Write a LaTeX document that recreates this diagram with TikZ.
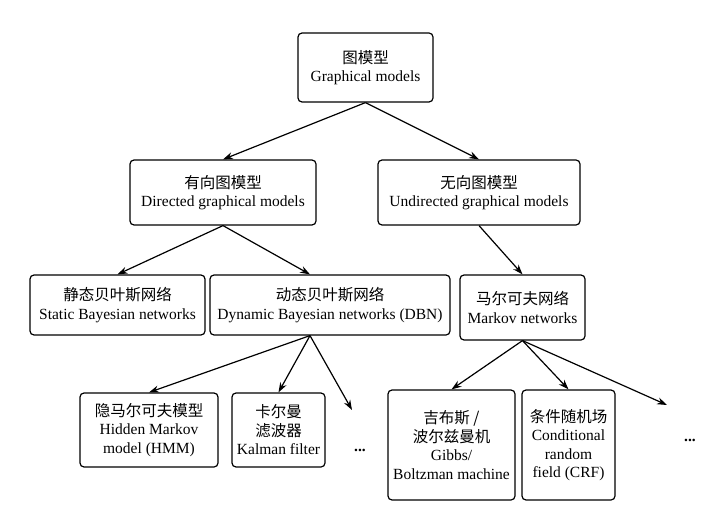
\documentclass[tikz,border=0pt]{standalone}
\usepackage{fontspec}
\setmainfont{Liberation Serif}
\newfontfamily\cjk{Noto Sans CJK SC}
\usetikzlibrary{arrows.meta}
\begin{document}
\begin{tikzpicture}[x=1pt,y=-1pt,
  box/.style={draw,line width=1.2pt,rounded corners=4pt,align=center,font=\fontsize{15.5}{18.5}\selectfont,inner sep=0pt},
  arr/.style={line width=1.2pt,-{Stealth[length=10pt,width=7pt]}}]
\useasboundingbox (0,0) rectangle (720,505);
\node[box,minimum width=135,minimum height=69] (root) at (365.5,67.5) {{\cjk 图模型}\\Graphical models};
\node[box,minimum width=186,minimum height=65] (dir) at (223,192.5) {{\cjk 有向图模型}\\Directed graphical models};
\node[box,minimum width=202,minimum height=65] (und) at (479,192.5) {{\cjk 无向图模型}\\Undirected graphical models};
\node[box,minimum width=175,minimum height=60] (sta) at (117.5,305) {{\cjk 静态贝叶斯网络}\\Static Bayesian networks};
\node[box,minimum width=240,minimum height=60] (dyn) at (330,305) {{\cjk 动态贝叶斯网络}\\Dynamic Bayesian networks (DBN)};
\node[box,minimum width=125,minimum height=65] (mar) at (522.5,307.5) {{\cjk 马尔可夫网络}\\Markov networks};
\node[box,minimum width=138,minimum height=74] (hmm) at (149,430) {{\cjk 隐马尔可夫模型}\\Hidden Markov\\model (HMM)};
\node[box,minimum width=93,minimum height=74] (kal) at (278.5,430) {{\cjk 卡尔曼}\\{\cjk 滤波器}\\Kalman filter};
\node[box,minimum width=127,minimum height=110] (gib) at (451.5,445) {{\cjk 吉布斯 /}\\{\cjk 波尔兹曼机}\\Gibbs/\\Boltzman machine};
\node[box,minimum width=93,minimum height=110] (crf) at (568.5,445) {{\cjk 条件随机场}\\Conditional\\random\\field (CRF)};
\node[font=\fontsize{15.5}{18}\selectfont\bfseries] (d1) at (360,450) {...};
\node[font=\fontsize{15.5}{18}\selectfont\bfseries] (d2) at (690,440) {...};
\coordinate (e1) at (352,410);
\coordinate (e2) at (667,405);
\draw[arr] (root.south) -- (dir.north);
\draw[arr] (root.south) -- (und.north);
\draw[arr] (dir.south) -- (sta.north);
\draw[arr] (dir.south) -- (dyn.north-|310,0);
\draw[arr] (und.south) -- (mar.north);
\draw[arr] (dyn.south-|310,0) -- (hmm.north);
\draw[arr] (dyn.south-|310,0) -- (kal.north);
\draw[arr] (dyn.south-|310,0) -- (e1);
\draw[arr] (mar.south) -- (gib.north);
\draw[arr] (mar.south) -- (crf.north);
\draw[arr] (mar.south) -- (e2);
\end{tikzpicture}
\end{document}
